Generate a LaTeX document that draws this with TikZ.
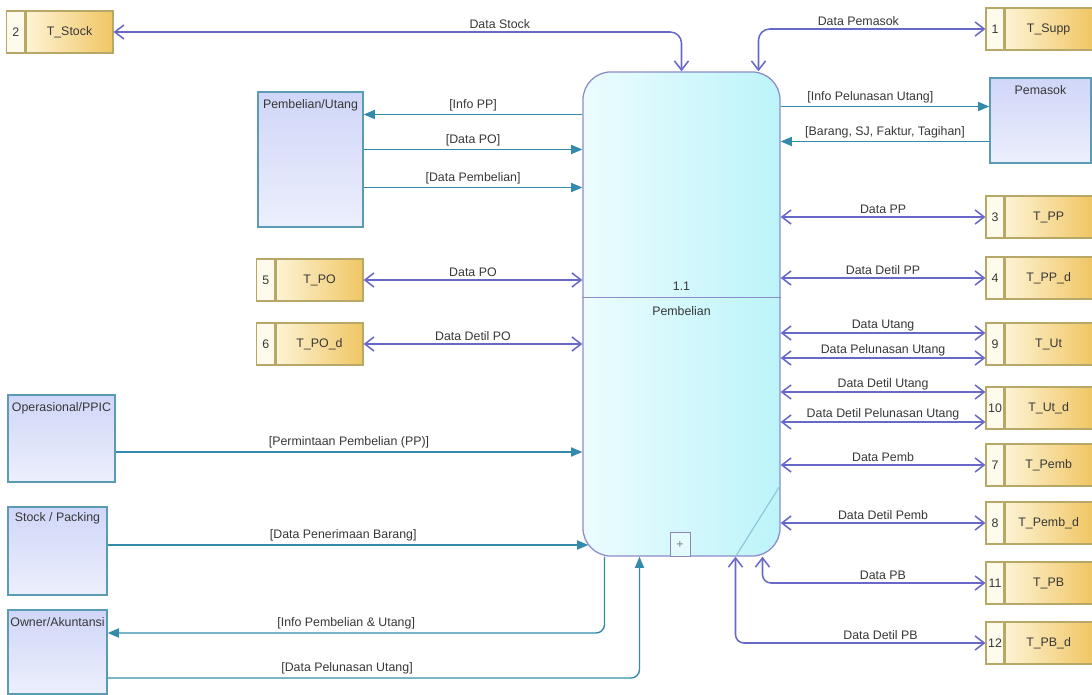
\documentclass[tikz,border=0pt]{standalone}
\usepackage{fontspec}
\setmainfont{Liberation Sans}
\usetikzlibrary{arrows.meta,positioning,calc}

\definecolor{procLine}{RGB}{140,140,200}
\definecolor{procFill}{RGB}{188,244,250}
\definecolor{procLight}{RGB}{236,252,254}
\definecolor{flowPurple}{RGB}{104,104,200}
\definecolor{flowTeal}{RGB}{52,138,170}
\definecolor{storeLine}{RGB}{184,168,104}
\definecolor{storeLight}{RGB}{253,243,212}
\definecolor{storeDark}{RGB}{240,198,100}
\definecolor{storeCell}{RGB}{254,250,236}
\definecolor{entityLine}{RGB}{90,156,180}
\definecolor{entityTop}{RGB}{208,214,248}
\definecolor{entityBottom}{RGB}{236,239,252}
\definecolor{labelGray}{RGB}{55,55,55}

\begin{document}
\begin{tikzpicture}[
    x=0.025cm, y=-0.025cm,
    font=\fontsize{8.8pt}{10.5pt}\selectfont,
    process/.style={
        rectangle,
        draw=procLine,
        line width=0.9pt,
        rounded corners=0.7cm,
        left color=procLight,
        right color=procFill,
        minimum width=4.925cm,
        minimum height=12.1cm
    },
    entity/.style={
        rectangle,
        draw=entityLine,
        line width=1pt,
        top color=entityTop,
        bottom color=entityBottom
    },
    entityLabel/.style={
        anchor=north,
        inner sep=6pt,
        text=labelGray
    },
    storeName/.style={
        rectangle,
        draw=storeLine,
        line width=0.8pt,
        left color=storeLight,
        right color=storeDark,
        text=labelGray,
        minimum width=2.175cm,
        minimum height=1.05cm
    },
    storeNum/.style={
        rectangle,
        draw=storeLine,
        line width=0.8pt,
        fill=storeCell,
        text=labelGray,
        inner xsep=1.5pt,
        minimum width=0.45cm,
        minimum height=1.05cm
    },
    storeFlow/.style={
        draw=flowPurple,
        line width=1.1pt,
        arrows={Straight Barb[length=6.5pt,width=10pt]-Straight Barb[length=6.5pt,width=10pt]}
    },
    actorFlow/.style={
        draw=flowTeal,
        line width=1pt,
        arrows={-Triangle[length=8pt,width=6.5pt]}
    },
    flowLabel/.style={
        text=labelGray,
        inner sep=2pt
    }
]
\useasboundingbox (0,0) rectangle (1092,695);

% ==================== PROCESS 1.1 ====================
\node[process] (proc) at (681.5,314) {};
\draw[procLine, line width=0.9pt] ($(proc.north west)+(0,226)$) -- ($(proc.north east)+(0,226)$);
\node[text=labelGray] (procId) at ($(proc.north)+(0,215)$) {1.1};
\node[text=labelGray] (procName) at ($(proc.north)+(0,240)$) {Pembelian};
\node[draw=procLine!70!gray, fill=white!60!procFill, text=gray, minimum width=0.5cm, minimum height=0.6cm, inner sep=0pt] (procPlus) at ($(proc.south)+(-1.5,-12)$) {+};
\draw[cyan!40!teal!50, line width=0.8pt] ($(proc.south)+(54,0)$) -- ($(proc.south east)+(0,-72)$);

% ==================== EXTERNAL ENTITIES ====================
\node[entity, minimum width=2.625cm, minimum height=3.375cm,
      label={[entityLabel]north:Pembelian/Utang}] (entPU) at (310.5,159.5) {};
\node[entity, minimum width=2.525cm, minimum height=2.125cm,
      label={[entityLabel]north:Pemasok}] (entPemasok) at (1040.5,120.5) {};
\node[entity, minimum width=2.675cm, minimum height=2.175cm,
      label={[entityLabel]north:Operasional/PPIC}] (entOps) at (61.5,438.5) {};
\node[entity, minimum width=2.475cm, minimum height=2.2cm,
      label={[entityLabel, inner sep=4pt]north:Stock / Packing}] (entStock) at (57.5,551) {};
\node[entity, minimum width=2.475cm, minimum height=2.1cm,
      label={[entityLabel]north:Owner/Akuntansi}] (entOwner) at (57.5,652) {};

% ==================== DATA STORES (LEFT) ====================
\node[storeName] (tStock) at (69.5,32) {T\_Stock};
\node[storeNum, left=0pt of tStock] (tStockNum) {2};
\node[storeName] (tPO) at (319.5,280) {T\_PO};
\node[storeNum, left=0pt of tPO] (tPONum) {5};
\node[storeName] (tPOd) at (319.5,344) {T\_PO\_d};
\node[storeNum, left=0pt of tPOd] (tPOdNum) {6};

% ==================== DATA STORES (RIGHT) ====================
\node[storeNum] (tSuppNum) at (995,29) {1};
\node[storeName, right=0pt of tSuppNum] (tSupp) {T\_Supp};
\node[storeNum] (tPPNum) at (995,217) {3};
\node[storeName, right=0pt of tPPNum] (tPP) {T\_PP};
\node[storeNum] (tPPdNum) at (995,278) {4};
\node[storeName, right=0pt of tPPdNum] (tPPd) {T\_PP\_d};
\node[storeNum] (tUtNum) at (995,344) {9};
\node[storeName, right=0pt of tUtNum] (tUt) {T\_Ut};
\node[storeNum] (tUtdNum) at (995,408) {10};
\node[storeName, right=0pt of tUtdNum] (tUtd) {T\_Ut\_d};
\node[storeNum] (tPembNum) at (995,465) {7};
\node[storeName, right=0pt of tPembNum] (tPemb) {T\_Pemb};
\node[storeNum] (tPembdNum) at (995,523) {8};
\node[storeName, right=0pt of tPembdNum] (tPembd) {T\_Pemb\_d};
\node[storeNum] (tPBNum) at (995,583) {11};
\node[storeName, right=0pt of tPBNum] (tPB) {T\_PB};
\node[storeNum] (tPBdNum) at (995,643) {12};
\node[storeName, right=0pt of tPBdNum] (tPBd) {T\_PB\_d};

% ==================== STORE FLOWS ====================
\draw[storeFlow, rounded corners=8pt] (tStock.east) -| node[flowLabel, above, pos=0.34] {Data Stock} (proc.north);
\draw[storeFlow, rounded corners=8pt] (tSuppNum.west) -| node[flowLabel, above, pos=0.28] {Data Pemasok} ($(proc.north)+(77,0)$);
\draw[storeFlow] (tPO.east) -- node[flowLabel, above] {Data PO} (proc.west |- tPO.east);
\draw[storeFlow] (tPOd.east) -- node[flowLabel, above] {Data Detil PO} (proc.west |- tPOd.east);

\draw[storeFlow] (proc.east |- tPPNum.west) -- node[flowLabel, above] {Data PP} (tPPNum.west);
\draw[storeFlow] (proc.east |- tPPdNum.west) -- node[flowLabel, above] {Data Detil PP} (tPPdNum.west);
\draw[storeFlow] ($(proc.east |- tUtNum.west)+(0,-11)$) -- node[flowLabel, above, inner sep=1pt] {Data Utang} ($(tUtNum.west)+(0,-11)$);
\draw[storeFlow] ($(proc.east |- tUtNum.west)+(0,14)$) -- node[flowLabel, above, inner sep=1pt] {Data Pelunasan Utang} ($(tUtNum.west)+(0,14)$);
\draw[storeFlow] ($(proc.east |- tUtdNum.west)+(0,-16)$) -- node[flowLabel, above, inner sep=1pt] {Data Detil Utang} ($(tUtdNum.west)+(0,-16)$);
\draw[storeFlow] ($(proc.east |- tUtdNum.west)+(0,14)$) -- node[flowLabel, above, inner sep=1pt] {Data Detil Pelunasan Utang} ($(tUtdNum.west)+(0,14)$);
\draw[storeFlow] (proc.east |- tPembNum.west) -- node[flowLabel, above] {Data Pemb} (tPembNum.west);
\draw[storeFlow] (proc.east |- tPembdNum.west) -- node[flowLabel, above] {Data Detil Pemb} (tPembdNum.west);
\draw[storeFlow, rounded corners=6pt] ($(proc.south)+(81,0)$) |- node[flowLabel, above, pos=0.77] {Data PB} (tPBNum.west);
\draw[storeFlow, rounded corners=6pt] ($(proc.south)+(54,0)$) |- node[flowLabel, above, pos=0.79] {Data Detil PB} (tPBdNum.west);

% ==================== ENTITY FLOWS ====================
\draw[actorFlow] ($(proc.west |- entPU.east)+(0,-45)$) -- node[flowLabel, above] {[Info PP]} ($(entPU.east)+(0,-45)$);
\draw[actorFlow] ($(entPU.east)+(0,-10)$) -- node[flowLabel, above] {[Data PO]} ($(proc.west |- entPU.east)+(0,-10)$);
\draw[actorFlow] ($(entPU.east)+(0,28)$) -- node[flowLabel, above] {[Data Pembelian]} ($(proc.west |- entPU.east)+(0,28)$);
\draw[actorFlow] ($(proc.east |- entPemasok.west)+(0,-14)$) -- node[flowLabel, above, pos=0.43] {[Info Pelunasan Utang]} ($(entPemasok.west)+(0,-14)$);
\draw[actorFlow] ($(entPemasok.west)+(0,21)$) -- node[flowLabel, above] {[Barang, SJ, Faktur, Tagihan]} ($(proc.east |- entPemasok.west)+(0,21)$);
\draw[actorFlow] ($(entOps.east)+(0,13.5)$) -- node[flowLabel, above] {[Permintaan Pembelian (PP)]} ($(proc.west |- entOps.east)+(0,13.5)$);
\draw[actorFlow] ($(entStock.east)+(0,-6)$) -- node[flowLabel, above, pos=0.49] {[Data Penerimaan Barang]} ($(proc.west |- entStock.east)+(6,-6)$);
\draw[actorFlow, rounded corners=6pt] ($(proc.south)+(-77,0)$) |- node[flowLabel, above, pos=0.76] {[Info Pembelian \& Utang]} ($(entOwner.east)+(0,-19)$);
\draw[actorFlow, rounded corners=6pt] ($(entOwner.east)+(0,26)$) -| node[flowLabel, above, pos=0.225] {[Data Pelunasan Utang]} ($(proc.south)+(-42,0)$);

\end{tikzpicture}
\end{document}
